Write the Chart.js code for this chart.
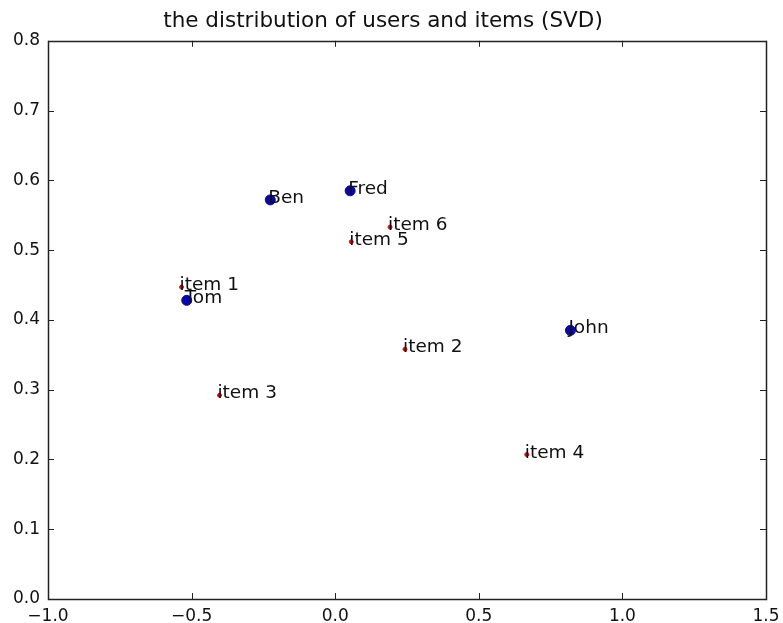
<!DOCTYPE html>
<html>
<head>
<meta charset="utf-8">
<script src="https://cdn.jsdelivr.net/npm/chart.js@4"></script>
<style>
  html, body { margin: 0; padding: 0; background: #fff; }
  #wrap { width: 783px; height: 623px; }
</style>
</head>
<body>
<div id="wrap"><canvas id="chart"></canvas></div>
<script>
// data
const userNames = ['Ben', 'Fred', 'Tom', 'John'];
const userX = [-0.226, 0.052, -0.517, 0.819];
const userY = [0.572, 0.585, 0.428, 0.385];

const itemNames = ['item 1', 'item 2', 'item 3', 'item 4', 'item 5', 'item 6'];
const itemX = [-0.535, 0.243, -0.403, 0.667, 0.056, 0.191];
const itemY = [0.447, 0.358, 0.292, 0.207, 0.512, 0.533];

const xTicks = [-1.0, -0.5, 0.0, 0.5, 1.0, 1.5];
const yTicks = [0.0, 0.1, 0.2, 0.3, 0.4, 0.5, 0.6, 0.7, 0.8];

const FONT = 'DejaVu Sans';
Chart.defaults.font.family = FONT;
Chart.defaults.color = '#000';

// inner ticks on all four sides + frame, like matplotlib
const frameTicks = {
    id: 'frameTicks',
    afterDraw(chart) {
        const { ctx, chartArea: a, scales } = chart;
        ctx.save();
        ctx.strokeStyle = '#222';
        ctx.lineWidth = 1;
        const len = 6;
        ctx.beginPath();
        xTicks.forEach(v => {
            const px = Math.round(scales.x.getPixelForValue(v)) + 0.5;
            ctx.moveTo(px, a.bottom); ctx.lineTo(px, a.bottom - len);
            ctx.moveTo(px, a.top); ctx.lineTo(px, a.top + len);
        });
        yTicks.forEach(v => {
            const py = Math.round(scales.y.getPixelForValue(v)) + 0.5;
            ctx.moveTo(a.left, py); ctx.lineTo(a.left + len, py);
            ctx.moveTo(a.right, py); ctx.lineTo(a.right - len, py);
        });
        ctx.stroke();
        ctx.lineWidth = 1.5;
        ctx.strokeRect(Math.round(a.left) + 0.5, Math.round(a.top) + 0.5,
            Math.round(a.right - a.left), Math.round(a.bottom - a.top));
        ctx.restore();
    }
};

// text labels next to each point
const pointLabels = {
    id: 'pointLabels',
    afterDatasetsDraw(chart) {
        const ctx = chart.ctx;
        ctx.save();
        ctx.font = '18.5px ' + FONT;
        ctx.fillStyle = '#111';
        ctx.textAlign = 'left';
        ctx.textBaseline = 'alphabetic';
        chart.data.datasets.forEach((ds, i) => {
            chart.getDatasetMeta(i).data.forEach((el, j) => {
                ctx.fillText(ds.names[j], el.x - 2, el.y + 3);
            });
        });
        ctx.restore();
    }
};

new Chart(document.getElementById('chart'), {
    type: 'scatter',
    data: {
        datasets: [{
            label: 'users',
            names: userNames,
            data: userX.map((x, i) => ({ x: x, y: userY[i] })),
            backgroundColor: '#0808a8',
            borderColor: '#0808a8',
            pointRadius: 5
        }, {
            label: 'items',
            names: itemNames,
            data: itemX.map((x, i) => ({ x: x, y: itemY[i] })),
            backgroundColor: '#cc1111',
            borderColor: '#cc1111',
            pointRadius: 2
        }]
    },
    options: {
        responsive: true,
        maintainAspectRatio: false,
        animation: false,
        layout: { padding: { left: 0, right: 17, top: 0, bottom: 0 } },
        plugins: {
            legend: { display: false },
            tooltip: { enabled: false },
            title: {
                display: true,
                text: 'the distribution of users and items (SVD)',
                font: { size: 21.5, weight: 'normal', family: FONT },
                color: '#111',
                padding: { top: 9, bottom: 6 }
            }
        },
        scales: {
            x: {
                type: 'linear',
                min: -1.0,
                max: 1.5,
                afterBuildTicks: s => { s.ticks = xTicks.map(v => ({ value: v })); },
                afterFit: s => { s.height = 24; s.paddingLeft = 0; s.paddingRight = 0; },
                grid: { display: false, drawTicks: false },
                border: { display: false },
                ticks: {
                    padding: 7,
                    font: { size: 17 },
                    color: '#111',
                    maxRotation: 0,
                    callback: v => (v < 0 ? '\u2212' : '') + Math.abs(v).toFixed(1)
                }
            },
            y: {
                type: 'linear',
                min: 0,
                max: 0.8,
                afterBuildTicks: s => { s.ticks = yTicks.map(v => ({ value: v })); },
                afterFit: s => { s.width = 48; },
                grid: { display: false, drawTicks: false },
                border: { display: false },
                ticks: {
                    padding: 8,
                    font: { size: 17 },
                    color: '#111',
                    callback: v => v.toFixed(1)
                }
            }
        }
    },
    plugins: [frameTicks, pointLabels]
});
</script>
</body>
</html>
